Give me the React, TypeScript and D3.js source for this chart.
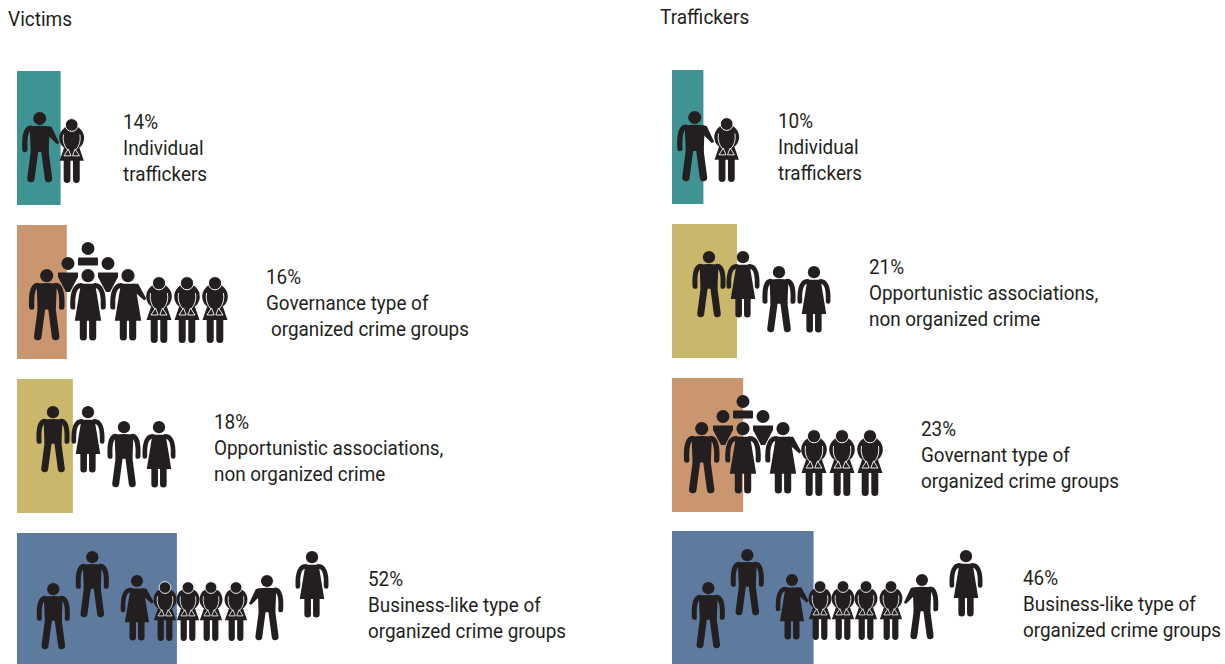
import React from "react";
import * as d3 from "d3";

const ink = "#231f20";
const panelTitles = ["Victims", "Traffickers"];
const victimValues = [14, 16, 18, 52];
const traffickerValues = [10, 21, 23, 46];
const victimLabels = [
  ["14%", "Individual", "traffickers"],
  ["16%", "Governance type of", " organized crime groups"],
  ["18%", "Opportunistic associations,", "non organized crime"],
  ["52%", "Business-like type of", "organized crime groups"],
];
const traffickerLabels = [
  ["10%", "Individual", "traffickers"],
  ["21%", "Opportunistic associations,", "non organized crime"],
  ["23%", "Governant type of", "organized crime groups"],
  ["46%", "Business-like type of", "organized crime groups"],
];
const groupIndividual = "#3f9392";
const groupGovernance = "#c9966f";
const groupOpportunistic = "#c9b86b";
const groupBusiness = "#5f7a9f";
const victimColors = [groupIndividual, groupGovernance, groupOpportunistic, groupBusiness];
const traffickerColors = [groupIndividual, groupOpportunistic, groupGovernance, groupBusiness];

type Kind = "man" | "manPoint" | "manPointL" | "woman" | "womanPoint" | "girl" | "tri" | "bar";
type Fig = [Kind, number, number, number]; // kind, centre x, top y, height

// Pictogram layouts (layout only, not data)
const individualFigs = (dy: number, mx: number, gx: number): Fig[] => [
  ["manPoint", mx, 112 + dy, 70],
  ["girl", gx, 119 + dy, 63],
];
const governanceFigs = (dx: number, dy: number): Fig[] => [
  ["man", 46.7 + dx, 269 + dy, 71],
  ["tri", 68 + dx, 257 + dy, 36],
  ["tri", 108 + dx, 257 + dy, 36],
  ["bar", 88 + dx, 242 + dy, 24],
  ["woman", 88 + dx, 269 + dy, 71],
  ["womanPoint", 128 + dx, 269 + dy, 71],
  ["girl", 159 + dx, 277 + dy, 65],
  ["girl", 187 + dx, 277 + dy, 65],
  ["girl", 215 + dx, 277 + dy, 65],
];
const opportunisticFigs = (dx: number, dy: number, step: number[]): Fig[] => [
  ["man", step[0] + dx, 406 + dy, 66],
  ["woman", step[1] + dx, 406 + dy, 66],
  ["man", step[2] + dx, 421 + dy, 66],
  ["woman", step[3] + dx, 421 + dy, 66],
];
const victimBusiness: Fig[] = [
  ["man", 53.3, 583, 66],
  ["man", 92.3, 551, 66],
  ["womanPoint", 137, 575, 65],
  ["girl", 165, 582, 58],
  ["girl", 188, 582, 58],
  ["girl", 211, 582, 58],
  ["girl", 236, 582, 58],
  ["manPointL", 267, 575, 65],
  ["woman", 312, 551, 66],
];
const traffickerBusiness: Fig[] = [
  ["man", 708.3, 582, 66],
  ["man", 747.3, 549, 66],
  ["womanPoint", 792, 574, 65],
  ["girl", 820, 581, 58],
  ["girl", 843, 581, 58],
  ["girl", 866, 581, 58],
  ["girl", 891, 581, 58],
  ["manPointL", 922, 574, 65],
  ["woman", 966, 550, 66],
];

const Man = ({ point }: { point?: boolean }) => (
  <g>
    <circle cx={0} cy={6.5} r={6.5} fill={ink} />
    <path d="M-10,14.5 Q0,13 10,14.5 L9,40 L-9,40 Z" fill={ink} />
    <path d="M-9,16.2 C-13.5,16.5 -15.5,24 -14.8,37.5" fill="none" stroke={ink} strokeWidth={5.3} strokeLinecap="round" />
    {point ? (
      <path d="M8,14.5 L12,15 L19.5,31 L17,32 L9,24 Z" fill={ink} />
    ) : (
      <path d="M9,16.2 C13.5,16.5 15.5,24 14.8,37.5" fill="none" stroke={ink} strokeWidth={5.3} strokeLinecap="round" />
    )}
    <path d="M-5,38 L-8.8,66.5 M5,38 L8.8,66.5" fill="none" stroke={ink} strokeWidth={7.4} strokeLinecap="round" />
  </g>
);

const Woman = ({ point }: { point?: boolean }) => (
  <g>
    <circle cx={0} cy={6.5} r={6.5} fill={ink} />
    <path d="M-7,14.5 L7,14.5 L13,51 L-13,51 Z" fill={ink} />
    <path d="M-7,16.2 C-13,16.5 -15.5,24 -15,37.5" fill="none" stroke={ink} strokeWidth={5} strokeLinecap="round" />
    {point ? (
      <path d="M5,14.5 L10,14.5 L18,29 L16,31 L8,24 Z" fill={ink} />
    ) : (
      <path d="M7,16.2 C13,16.5 15.5,24 15,37.5" fill="none" stroke={ink} strokeWidth={5} strokeLinecap="round" />
    )}
    <path d="M-4.6,48 L-4.6,67 M4.6,48 L4.6,67" fill="none" stroke={ink} strokeWidth={7} strokeLinecap="round" />
  </g>
);

const Girl = () => (
  <g>
    <circle cx={0} cy={19.5} r={12.8} fill={ink} />
    <path d="M-8,30 L-12.5,43 L12.5,43 L8,30 Z" fill={ink} />
    <path d="M-4.8,42 L-4.8,62.5 M4.8,42 L4.8,62.5" fill="none" stroke={ink} strokeWidth={7} strokeLinecap="round" />
    <circle cx={0} cy={6.2} r={6.6} fill={ink} stroke="#fff" strokeWidth={1} />
    <path
      d="M-8.5,16 Q-10,26 -4,32 M8.5,16 Q10,26 4,32 M-8,38 L-3.5,31 L-0.8,38 Z M8,38 L3.5,31 L0.8,38 Z"
      fill="none"
      stroke="#fff"
      strokeWidth={0.9}
    />
  </g>
);

const Tri = () => (
  <g>
    <circle cx={0} cy={6.5} r={6.5} fill={ink} />
    <path d="M-10,15.5 L10,15.5 L10,20 L2,35 L-2,35 L-10,20 Z" fill={ink} />
  </g>
);

const Bar = () => (
  <g>
    <circle cx={0} cy={6.5} r={6.5} fill={ink} />
    <rect x={-10} y={15.5} width={20} height={8} rx={1} fill={ink} />
  </g>
);

const Figure = ({ fig }: { fig: Fig }) => {
  const [kind, x, y, h] = fig;
  const base = kind === "girl" ? 65 : kind === "tri" ? 36 : kind === "bar" ? 24 : 70;
  const s = h / base;
  const flip = kind === "manPointL" ? -1 : 1;
  return (
    <g transform={`translate(${x},${y}) scale(${s * flip},${s})`}>
      {kind === "man" && <Man />}
      {(kind === "manPoint" || kind === "manPointL") && <Man point />}
      {kind === "woman" && <Woman />}
      {kind === "womanPoint" && <Woman point />}
      {kind === "girl" && <Girl />}
      {kind === "tri" && <Tri />}
      {kind === "bar" && <Bar />}
    </g>
  );
};

const widthScale = d3.scaleLinear().domain([0, 100]).range([0.8, 306.8]);

const Label = ({ x, y, lines }: { x: number; y: number; lines: string[] }) => (
  <g transform={`translate(${x},${y}) scale(0.9,1)`}>
    {lines.map((l, i) => (
      <text
        key={i}
        x={l.startsWith(" ") ? 5.5 : 0}
        y={i * 26}
        fontFamily="Roboto, sans-serif"
        fontSize={21}
        fill={ink}
      >
        {l.trim()}
      </text>
    ))}
  </g>
);

const Panel = ({
  x,
  tops,
  values,
  colors,
  labels,
  labelX,
  labelY,
  heights,
}: {
  x: number;
  tops: number[];
  values: number[];
  colors: string[];
  labels: string[][];
  labelX: number[];
  labelY: number[];
  heights: number[];
}) => (
  <g>
    {values.map((v, i) => (
      <rect key={i} x={x} y={tops[i]} width={widthScale(v)} height={heights[i]} fill={colors[i]} />
    ))}
    {labels.map((l, i) => (
      <Label key={i} x={labelX[i]} y={labelY[i]} lines={l} />
    ))}
  </g>
);

const victimFigs: Fig[] = [
  ...individualFigs(0, 39.7, 71.7),
  ...governanceFigs(0, 0),
  ...opportunisticFigs(0, 0, [53, 88, 124, 159]),
  ...victimBusiness,
];
const traffickerFigs: Fig[] = [
  ...individualFigs(-1, 694.7, 726.7),
  ...governanceFigs(655, 153),
  ...opportunisticFigs(0, -155, [709, 743, 779, 814]),
  ...traffickerBusiness,
];

export default function App() {
  return (
    <svg
      width={1225}
      height={664}
      viewBox="0 0 1225 664"
      style={{ position: "absolute", left: 0, top: 0, display: "block", background: "#fff" }}
    >
      <g transform="translate(8,26) scale(0.93,1)">
        <text fontFamily="Roboto, sans-serif" fontSize={20.5} fill={ink}>{panelTitles[0]}</text>
      </g>
      <g transform="translate(660,24) scale(0.93,1)">
        <text fontFamily="Roboto, sans-serif" fontSize={20.5} fill={ink}>{panelTitles[1]}</text>
      </g>
      <Panel
        x={17}
        tops={[71, 225, 379, 533]}
        heights={[134, 134, 134, 131]}
        values={victimValues}
        colors={victimColors}
        labels={victimLabels}
        labelX={[123, 266, 214, 368]}
        labelY={[129, 284, 429, 586]}
      />
      <Panel
        x={672}
        tops={[70, 224, 378, 531]}
        heights={[134, 134, 134, 133]}
        values={traffickerValues}
        colors={traffickerColors}
        labels={traffickerLabels}
        labelX={[778, 869, 921, 1023]}
        labelY={[128, 274, 436, 585]}
      />
      {victimFigs.map((f, i) => <Figure key={i} fig={f} />)}
      {traffickerFigs.map((f, i) => <Figure key={i} fig={f} />)}
    </svg>
  );
}
